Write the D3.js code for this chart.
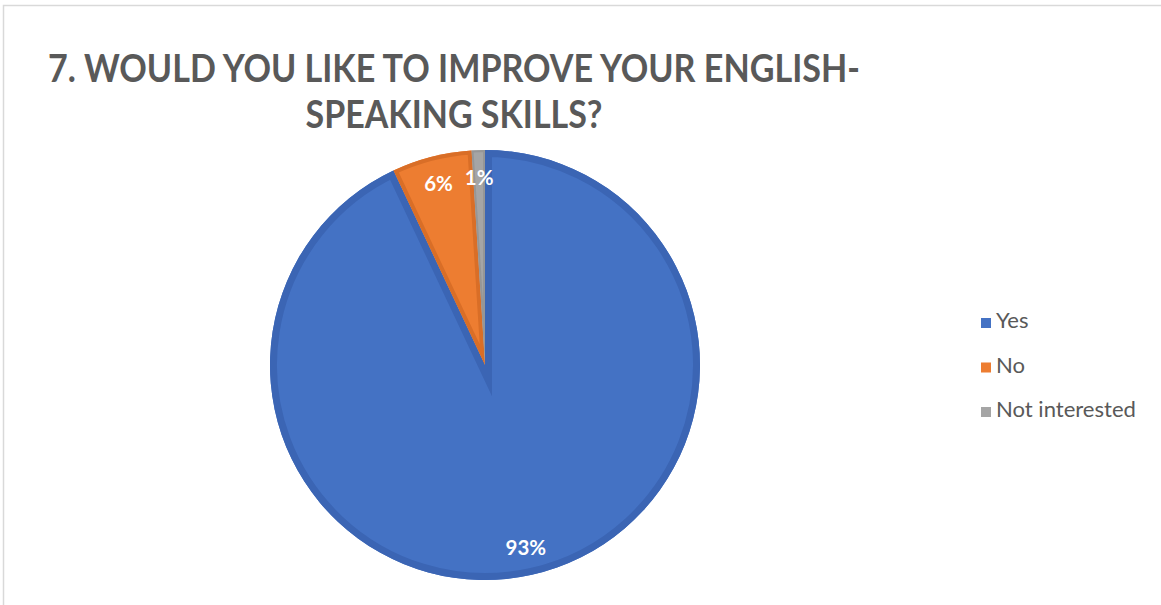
<!DOCTYPE html>
<html>
<head>
<meta charset="utf-8">
<script src="https://cdn.jsdelivr.net/npm/d3@7"></script>
<style>
  body { margin: 0; background: #fff; }
  svg { display: block; }
</style>
</head>
<body>
<svg id="chart" width="1161" height="605"></svg>
<script>
// Survey answers (percent of respondents)
const categories = ["Yes", "No", "Not interested"];
const values = [93, 6, 1];
const titleLines = ["7. WOULD YOU LIKE TO IMPROVE YOUR ENGLISH-", "SPEAKING SKILLS?"];

const fills = ["#4472C4", "#ED7D31", "#A5A5A5"];
const rims = ["#3B65B4", "#D96E27", "#969696"];
const rimWidths = [14, 8, 4];

const svg = d3.select("#chart");
const textColor = "#595959";
const font = "Lato, 'Open Sans', sans-serif";

// Chart frame
svg.append("rect")
  .attr("x", 3.5).attr("y", 5.5)
  .attr("width", 1170).attr("height", 620)
  .attr("fill", "#fff")
  .attr("stroke", "#D9D9D9").attr("stroke-width", 1.5);

// Scale text so that its rendered width equals a target width
function fitWidth(sel, target) {
  const w = sel.node().getComputedTextLength();
  const fs = parseFloat(sel.attr("font-size"));
  const nfs = fs * target / w;
  sel.attr("font-size", nfs);
  return nfs;
}

// Title (two centred lines, slightly condensed)
const titleX = 454;
const titleRows = [
  { text: titleLines[0], y: 82, width: 812 },
  { text: titleLines[1], y: 128, width: 297 }
];
svg.selectAll("text.title").data(titleRows).join("text")
  .attr("class", "title")
  .attr("x", titleX).attr("y", d => d.y)
  .attr("text-anchor", "middle")
  .attr("font-family", font).attr("font-weight", 700)
  .attr("font-size", 38.5).attr("fill", textColor)
  .attr("textLength", d => d.width)
  .attr("lengthAdjust", "spacingAndGlyphs")
  .text(d => d.text);

// Pie
const cx = 485, cy = 365, R = 215;
const pie = d3.pie().sort(null).value(d => d)
  .startAngle(0).endAngle(2 * Math.PI);
const arcs = pie(values);
const arc = d3.arc().innerRadius(0).outerRadius(R);
const labelArc = d3.arc().innerRadius(187).outerRadius(187);

const defs = svg.append("defs");
arcs.forEach((a, i) => {
  defs.append("clipPath").attr("id", "slice-clip-" + i)
    .append("path").attr("d", arc(a));
});

const g = svg.append("g").attr("transform", `translate(${cx},${cy})`);

g.selectAll("path.slice").data(arcs).join("path")
  .attr("class", "slice")
  .attr("d", arc)
  .attr("fill", (d, i) => fills[i]);

// Darker inner rim along each slice's edges
g.selectAll("path.rim").data(arcs).join("path")
  .attr("class", "rim")
  .attr("d", arc)
  .attr("fill", "none")
  .attr("stroke", (d, i) => rims[i])
  .attr("stroke-width", (d, i) => rimWidths[i])
  .attr("stroke-linejoin", "miter")
  .attr("stroke-miterlimit", 12)
  .attr("clip-path", (d, i) => `url(#slice-clip-${i})`);

// Data labels
g.selectAll("text.value").data(arcs).join("text")
  .attr("class", "value")
  .attr("transform", d => `translate(${labelArc.centroid(d)})`)
  .attr("text-anchor", "middle")
  .attr("dy", "0.36em")
  .attr("font-family", font).attr("font-weight", 700)
  .attr("font-size", 20.5)
  .attr("fill", "#fff")
  .text(d => d.data + "%");

// Legend
const legendX = 981, legendY0 = 328, legendStep = 44.5;
const legend = svg.append("g");
const items = legend.selectAll("g").data(categories).join("g")
  .attr("transform", (d, i) => `translate(${legendX},${legendY0 + i * legendStep})`);
items.append("rect")
  .attr("x", 0).attr("y", -10)
  .attr("width", 10).attr("height", 10)
  .attr("fill", (d, i) => fills[i]);
const legendTexts = items.append("text")
  .attr("x", 15).attr("y", 0)
  .attr("font-family", font)
  .attr("font-size", 18)
  .attr("fill", textColor)
  .text(d => d);
const lastLegend = d3.select(legendTexts.nodes()[2]);
const legendSize = fitWidth(lastLegend, 140);
legendTexts.attr("font-size", legendSize);
</script>
</body>
</html>
